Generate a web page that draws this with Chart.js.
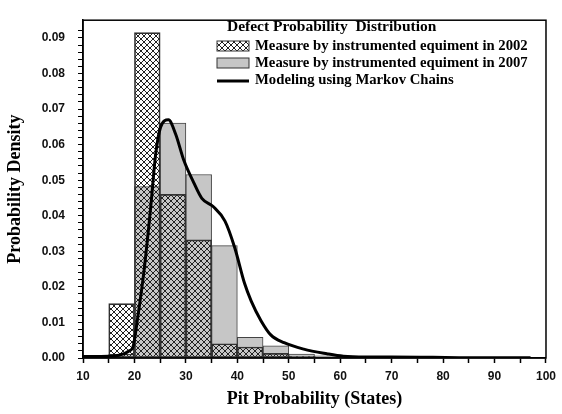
<!DOCTYPE html>
<html>
<head>
<meta charset="utf-8">
<script src="https://cdn.jsdelivr.net/npm/chart.js@4.4.1/dist/chart.umd.min.js"></script>
<style>
  html, body { margin: 0; padding: 0; background: #fff; }
  #wrap { width: 562px; height: 414px; }
</style>
</head>
<body>
<div id="wrap"><canvas id="pitChart" width="562" height="414"></canvas></div>
<script>
// bins are 5 units wide, value = start of the bin
const binStarts = [15, 20, 25, 30, 35, 40, 45, 50, 55, 60, 65];
const measured2002 = [0.0153, 0.0915, 0.0460, 0.0332, 0.0040, 0.0031, 0.0013, 0.0005, 0.0003, 0.0002, 0.0001];
const measured2007 = [0.0010, 0.0482, 0.0661, 0.0516, 0.0316, 0.0058, 0.0034, 0.0011, 0.0006, 0.0003, 0.0002];

// Markov chain model curve
const modelX = [10, 15, 17, 18, 19, 19.7, 20.6, 21.9, 23.2, 24.1, 25.1, 26.6, 28, 29.6, 31.5, 33.1, 35.3, 37.6, 39.5, 41.4, 42.7, 44.6, 46.5, 49.1, 52.9, 57.4, 60.6, 65, 70, 78, 85, 97];
const modelY = [0.0004, 0.0005, 0.0008, 0.0012, 0.002, 0.003, 0.011, 0.025, 0.043, 0.057, 0.065, 0.067, 0.063, 0.0556, 0.0494, 0.0449, 0.0426, 0.0385, 0.031, 0.021, 0.016, 0.0105, 0.0065, 0.0043, 0.0025, 0.0012, 0.0005, 0.0003, 0.0003, 0.0002, 0.0001, 0.0001];

const legendTitle = 'Defect Probability  Distribution';
const labels = ['Measure by instrumented equiment in 2002', 'Measure by instrumented equiment in 2007', 'Modeling using Markov Chains'];

const serifBold = '"Liberation Serif", "Times New Roman", serif';
const tickFont = { family: '"Liberation Sans Narrow", "Liberation Sans", Arial, sans-serif', size: 12, weight: 'bold' };

function makeHatch() {
    const c = document.createElement('canvas');
    c.width = 6; c.height = 6;
    const g = c.getContext('2d');
    g.strokeStyle = '#222';
    g.lineWidth = 1;
    g.beginPath();
    g.moveTo(0, 0); g.lineTo(6, 6);
    g.moveTo(0, 6); g.lineTo(6, 0);
    g.stroke();
    return g.createPattern(c, 'repeat');
}
const hatch = makeHatch();
const grayFill = '#c6c6c6';

const frameAndLegend = {
    id: 'frameAndLegend',
    afterDraw(chart) {
        const ctx = chart.ctx;
        const a = chart.chartArea;
        ctx.save();
        ctx.strokeStyle = '#000';
        ctx.lineWidth = 1.5;
        ctx.strokeRect(a.left, a.top, a.right - a.left, a.bottom - a.top);

        // legend inside the plot
        ctx.fillStyle = '#000';
        ctx.textBaseline = 'middle';
        ctx.font = 'bold 15.5px ' + serifBold;
        ctx.fillText(legendTitle, 227, 27);
        const sx = 217, sw = 32, rows = [46, 63, 80];
        ctx.font = 'bold 14.7px ' + serifBold;
        labels.forEach((t, i) => ctx.fillText(t, 255, rows[i]));

        ctx.lineWidth = 1;
        ctx.strokeStyle = '#333';
        ctx.fillStyle = hatch;
        ctx.fillRect(sx, rows[0] - 5, sw, 10);
        ctx.strokeRect(sx, rows[0] - 5, sw, 10);
        ctx.fillStyle = grayFill;
        ctx.fillRect(sx, rows[1] - 5, sw, 10);
        ctx.strokeRect(sx, rows[1] - 5, sw, 10);
        ctx.strokeStyle = '#000';
        ctx.lineWidth = 3;
        ctx.beginPath();
        ctx.moveTo(sx, rows[2] + 1);
        ctx.lineTo(sx + sw, rows[2] + 1);
        ctx.stroke();
        ctx.restore();
    }
};

const ctx = document.getElementById('pitChart').getContext('2d');
new Chart(ctx, {
    type: 'bar',
    data: {
        datasets: [{
            type: 'line',
            label: labels[2],
            data: modelX.map((x, i) => ({ x: x, y: modelY[i] })),
            borderColor: '#000',
            borderWidth: 3,
            pointRadius: 0,
            cubicInterpolationMode: 'monotone',
            fill: false
        }, {
            label: labels[0],
            data: binStarts.map((b, i) => ({ x: b + 2.5, y: measured2002[i] })),
            backgroundColor: hatch,
            borderColor: '#333',
            borderWidth: 1,
            borderSkipped: false,
            grouped: false,
            barPercentage: 1,
            categoryPercentage: 1
        }, {
            label: labels[1],
            data: binStarts.map((b, i) => ({ x: b + 2.5, y: measured2007[i] })),
            backgroundColor: grayFill,
            borderColor: '#444',
            borderWidth: 1,
            borderSkipped: false,
            grouped: false,
            barPercentage: 1,
            categoryPercentage: 1
        }]
    },
    options: {
        responsive: false,
        animation: false,
        layout: { padding: { top: 10, right: 10, left: 0, bottom: 0 } },
        plugins: {
            legend: { display: false },
            tooltip: { enabled: false }
        },
        scales: {
            x: {
                type: 'linear',
                min: 10,
                max: 100,
                offset: false,
                grid: { offset: false, drawOnChartArea: false, tickLength: 5, color: '#000', tickWidth: 1.5 },
                border: { color: '#000', width: 1.5 },
                ticks: {
                    stepSize: 5,
                    autoSkip: false,
                    maxRotation: 0,
                    color: '#111',
                    font: tickFont,
                    padding: 6,
                    callback: v => (v % 10 === 0 ? String(v) : '')
                },
                title: {
                    display: true,
                    text: 'Pit Probability (States)',
                    color: '#000',
                    font: { family: serifBold, size: 18, weight: 'bold' },
                    padding: { top: 6 }
                },
                afterFit: s => { s.height = 56; }
            },
            y: {
                min: 0,
                max: 0.095,
                grid: { drawOnChartArea: false, tickLength: 5, color: '#000', tickWidth: 1 },
                border: { color: '#000', width: 1.5 },
                afterBuildTicks: s => { s.ticks = s.ticks.filter(t => t.value <= 0.0941); },
                ticks: {
                    stepSize: 0.002,
                    autoSkip: false,
                    color: '#111',
                    font: tickFont,
                    padding: 13,
                    callback: v => {
                        const k = Math.round(v * 100);
                        return Math.abs(v * 100 - k) < 1e-6 ? (k / 100).toFixed(2) : '';
                    }
                },
                title: {
                    display: true,
                    text: 'Probability Density',
                    color: '#000',
                    font: { family: serifBold, size: 18, weight: 'bold' },
                    padding: { top: 5, bottom: 0 }
                },
                afterFit: s => { s.width = 83; }
            }
        }
    },
    plugins: [frameAndLegend]
});
</script>
</body>
</html>
